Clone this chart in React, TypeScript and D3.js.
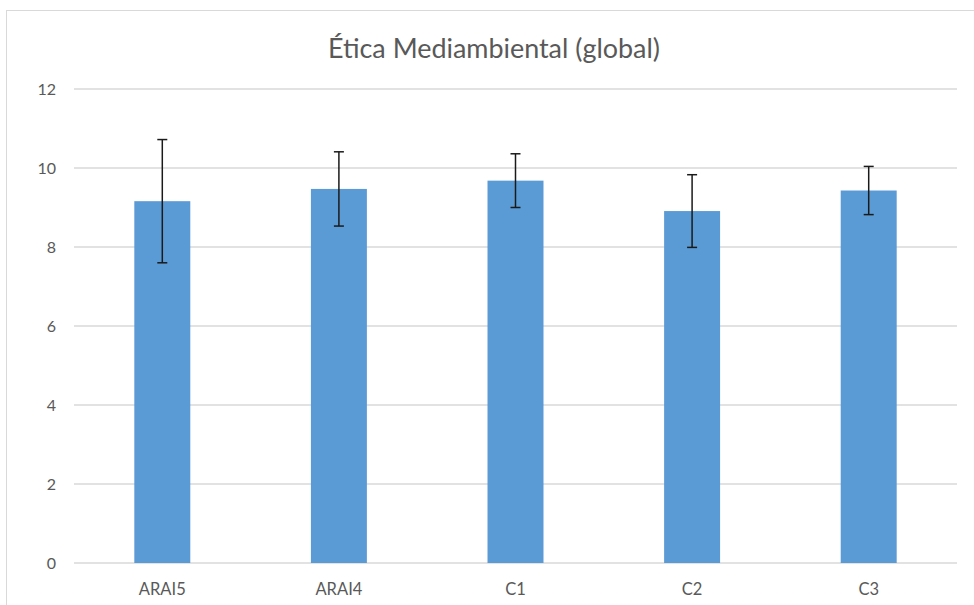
import React from "react";
import * as d3 from "d3";

const categories = ["ARAI5", "ARAI4", "C1", "C2", "C3"];
const values = [9.16, 9.47, 9.68, 8.91, 9.43];
const errors = [1.56, 0.94, 0.68, 0.92, 0.61];
const yTicks = [0, 2, 4, 6, 8, 10, 12];
const title = "Ética Mediambiental (global)";

const W = 974;
const H = 605;
const left = 74;
const right = 957;
const top = 89;
const bottom = 563;

export default function App() {
  const x = d3
    .scaleBand<string>()
    .domain(categories)
    .range([left, right])
    .paddingInner(0.683)
    .paddingOuter(0.3415);
  const y = d3.scaleLinear().domain([0, 12]).range([bottom, top]);
  const font = "Lato, 'Open Sans', sans-serif";
  return (
    <svg
      width={W}
      height={H}
      style={{ position: "absolute", left: 0, top: 0, background: "#fff" }}
    >
      <rect x={6.5} y={10.5} width={1000} height={700} fill="#fff" stroke="#d9d9d9" strokeWidth={1} />
      <text
        x={494}
        y={58}
        textAnchor="middle"
        fontFamily={font}
        fontSize={26}
        fill="#595959"
        textLength={332}
        lengthAdjust="spacingAndGlyphs"
      >
        {title}
      </text>
      {yTicks.map((t) => (
        <g key={t}>
          <line x1={left} x2={right} y1={y(t)} y2={y(t)} stroke="#d9d9d9" strokeWidth={1.3} />
          <text
            x={56}
            y={y(t)}
            dy="0.36em"
            textAnchor="end"
            fontFamily={font}
            fontSize={16}
            fill="#595959"
          >
            {t}
          </text>
        </g>
      ))}
      {categories.map((c, i) => {
        const bx = x(c)!;
        const bw = x.bandwidth();
        const cx = bx + bw / 2;
        return (
          <g key={c}>
            <rect x={bx} y={y(values[i])} width={bw} height={y(0) - y(values[i])} fill="#5B9BD5" />
            <line x1={cx} x2={cx} y1={y(values[i] + errors[i])} y2={y(values[i] - errors[i])} stroke="#1a1a1a" strokeWidth={1.5} />
            <line x1={cx - 5} x2={cx + 5} y1={y(values[i] + errors[i])} y2={y(values[i] + errors[i])} stroke="#1a1a1a" strokeWidth={1.5} />
            <line x1={cx - 5} x2={cx + 5} y1={y(values[i] - errors[i])} y2={y(values[i] - errors[i])} stroke="#1a1a1a" strokeWidth={1.5} />
            <text
              x={cx}
              y={595}
              textAnchor="middle"
              fontFamily={font}
              fontSize={16.5}
              fill="#595959"
            >
              {c}
            </text>
          </g>
        );
      })}
    </svg>
  );
}
